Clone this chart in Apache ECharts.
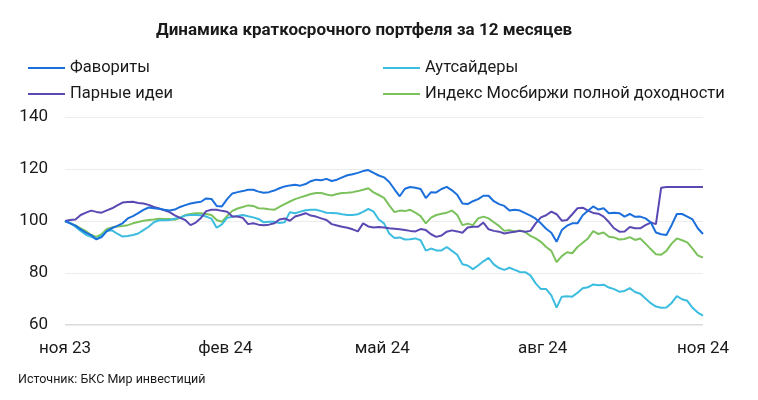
<!DOCTYPE html>
<html>
<head>
<meta charset="utf-8">
<script src="https://cdn.jsdelivr.net/npm/echarts@6/dist/echarts.min.js"></script>
<style>html,body{margin:0;padding:0;background:#fff}#chart{width:758px;height:400px}</style>
</head>
<body>
<div id="chart"></div>
<script>
// ---- data (sampled every 3 days from 1 Nov 2023 to 1 Nov 2024) ----
const startDate = '2023-11-01';
const stepDays = 3;
const favorites = [
100.0,99.1,98.2,96.8,95.5,94.6,92.9,93.8,96.1,97.3,98.1,99.1,101.0,101.9,103.0,104.3,105.2,104.9,104.7,104.3,104.0,
104.4,105.4,106.1,106.7,107.1,107.4,108.7,108.5,105.8,105.6,108.4,110.6,111.1,111.5,112.0,112.0,111.3,110.9,111.1,111.7,
112.6,113.3,113.7,113.9,113.6,114.2,115.3,115.9,115.7,116.2,115.4,115.9,116.8,117.6,118.0,118.5,119.2,119.6,118.5,117.5,
116.8,115.0,112.2,109.5,112.4,113.1,112.8,112.3,108.8,111.1,111.0,112.3,113.1,111.8,110.1,106.7,106.5,107.6,108.4,109.7,109.7,
107.6,106.5,105.8,104.0,104.3,104.0,103.0,102.1,100.9,99.1,97.0,95.5,92.0,96.5,98.2,99.1,99.1,102.2,103.9,105.6,
104.4,104.9,103.0,103.2,103.0,101.7,102.7,101.6,101.7,101.0,99.5,95.6,94.9,94.6,98.4,102.7,102.7,101.7,100.6,97.2,95.0
];
const outsiders = [
100.0,99.2,97.8,96.2,94.7,93.9,93.1,94.2,96.2,96.4,95.1,94.0,94.2,94.6,95.2,96.5,97.8,99.5,100.3,100.3,100.4,
100.9,101.4,102.1,102.3,102.3,102.2,101.7,100.9,97.4,98.7,101.2,101.6,101.9,102.3,101.8,101.4,100.8,99.5,99.7,99.7,
99.2,99.5,103.4,103.0,103.6,104.1,104.3,104.3,103.8,103.2,103.1,103.0,102.6,102.3,102.3,102.6,103.5,104.7,103.6,100.6,
99.1,95.2,93.5,93.7,92.9,93.0,93.3,92.6,88.6,89.4,88.7,88.7,90.0,88.5,87.0,83.4,82.9,81.5,82.9,84.5,85.8,
83.3,81.9,81.2,82.0,81.2,80.4,80.3,79.1,76.0,73.8,73.8,71.4,66.7,70.9,71.1,70.9,72.4,74.1,74.5,75.6,
75.3,75.5,74.4,73.8,72.8,73.1,74.2,72.7,72.0,70.2,68.4,67.1,66.6,66.7,68.5,71.1,69.9,69.3,66.6,64.8,63.6
];
const pairIdeas = [
100.0,100.4,100.6,102.3,103.2,104.0,103.5,103.2,104.1,104.9,106.0,107.1,107.3,107.4,106.9,106.7,106.2,105.4,104.8,104.1,103.4,
102.2,101.2,100.4,98.4,99.4,101.2,103.8,104.3,104.3,103.9,103.6,101.7,101.7,101.2,98.8,99.1,98.6,98.4,98.6,99.1,
100.6,101.0,100.1,101.7,102.3,103.0,102.1,101.7,101.0,100.4,98.8,98.3,97.8,97.4,96.8,96.0,99.1,97.9,97.5,97.7,
97.5,97.2,97.0,96.8,96.5,96.2,96.0,96.9,96.5,94.9,93.9,94.4,95.9,96.4,96.0,95.5,97.5,97.8,97.8,99.4,96.8,
96.2,95.9,95.2,95.6,95.9,96.2,95.9,96.2,99.1,101.4,102.2,103.6,102.6,100.1,100.4,102.6,104.9,105.1,104.0,103.1,
102.8,101.7,99.6,97.2,95.9,96.0,97.7,97.2,97.2,98.4,99.4,98.8,112.8,113.1,113.1,113.1,113.1,113.1,113.1,113.1,113.1
];
const moexIndex = [
100.0,99.2,98.3,97.2,96.1,94.6,93.9,94.9,96.9,97.5,97.9,98.1,98.4,99.1,99.6,100.1,100.4,100.6,100.9,100.8,100.8,
100.5,101.2,102.3,102.7,103.0,103.0,102.7,102.3,100.4,99.7,101.9,103.9,104.8,105.4,106.0,105.8,104.9,104.8,104.5,104.3,
105.4,106.5,107.5,108.4,109.1,109.7,110.4,110.8,110.8,110.2,109.8,110.4,110.8,110.9,111.1,111.5,112.0,112.6,111.0,110.0,
108.9,106.0,103.4,104.0,103.8,104.3,103.2,101.9,99.1,101.3,102.3,102.8,103.2,104.0,102.3,98.4,99.0,98.4,101.0,101.7,101.0,
99.5,98.1,96.2,96.5,96.0,96.4,95.7,94.3,93.3,92.0,90.0,88.5,84.2,86.5,88.0,87.6,90.0,91.6,93.3,96.1,
95.0,95.6,93.9,93.7,92.9,93.1,93.8,92.7,93.3,91.3,89.2,87.2,87.0,88.5,91.3,93.3,92.6,91.8,89.4,86.8,85.9
];
const seriesNames = ['Фавориты', 'Аутсайдеры', 'Парные идеи', 'Индекс Мосбиржи полной доходности'];
const tickDates = ['2023-11-01', '2024-02-01', '2024-05-01', '2024-08-01', '2024-11-01'];
const tickLabels = ['ноя 23', 'фев 24', 'май 24', 'авг 24', 'ноя 24'];
const yTicks = [60, 80, 100, 120, 140];
const titleText = 'Динамика краткосрочного портфеля за 12 месяцев';
const sourceText = 'Источник: БКС Мир инвестиций';

// ---- build: x is "days since startDate" ----
const DAY = 86400000;
const toTs = s => { const p = s.split('-').map(Number); return Date.UTC(p[0], p[1] - 1, p[2]); };
const t0 = toTs(startDate);
const dayOf = s => Math.round((toTs(s) - t0) / DAY);
const tickDays = tickDates.map(dayOf);
const pair = arr => arr.map((v, i) => [i * stepDays, v]);
const colors = ['#1b6fdc', '#3cbde0', '#5a49b3', '#7cc25c'];
const FONT = 'Roboto';
const txt = '#1a1a1a';

const chart = echarts.init(document.getElementById('chart'), null, {renderer: 'canvas'});
chart.setOption({
  animation: false,
  backgroundColor: '#fff',
  title: [
    {text: titleText, left: 156, top: 22, padding: 0,
     textStyle: {fontFamily: FONT, fontSize: 17, fontWeight: 'bold', color: txt}},
    {text: sourceText, left: 18, top: 373, padding: 0,
     textStyle: {fontFamily: FONT, fontSize: 12.5, fontWeight: 'normal', color: txt}}
  ],
  legend: [
    {data: [seriesNames[0], seriesNames[2]], orient: 'vertical', left: 28, top: 59, padding: 0,
     icon: 'rect', itemWidth: 37, itemHeight: 2, itemGap: 8,
     textStyle: {fontFamily: FONT, fontSize: 16.5, color: txt, lineHeight: 18}},
    {data: [seriesNames[1], seriesNames[3]], orient: 'vertical', left: 383, top: 59, padding: 0,
     icon: 'rect', itemWidth: 37, itemHeight: 2, itemGap: 8,
     textStyle: {fontFamily: FONT, fontSize: 16.5, color: txt, lineHeight: 18}}
  ],
  grid: {left: 65, right: 55, top: 117, bottom: 75, containLabel: false},
  xAxis: {
    type: 'value', min: tickDays[0], max: tickDays[tickDays.length - 1],
    axisLine: {show: false}, axisTick: {show: false}, splitLine: {show: false},
    axisLabel: {
      customValues: tickDays, margin: 15,
      fontFamily: FONT, fontSize: 17, color: txt,
      formatter: v => { const i = tickDays.indexOf(Math.round(v)); return i >= 0 ? tickLabels[i] : ''; }
    }
  },
  yAxis: {
    type: 'value', min: yTicks[0], max: yTicks[yTicks.length - 1], interval: 20,
    axisLine: {show: false}, axisTick: {show: false},
    splitLine: {lineStyle: {color: '#ececec', width: 1}},
    axisLabel: {margin: 17, fontFamily: FONT, fontSize: 17, color: txt}
  },
  series: [
    {name: seriesNames[3], type: 'line', data: pair(moexIndex), color: colors[3]},
    {name: seriesNames[1], type: 'line', data: pair(outsiders), color: colors[1]},
    {name: seriesNames[2], type: 'line', data: pair(pairIdeas), color: colors[2]},
    {name: seriesNames[0], type: 'line', data: pair(favorites), color: colors[0]}
  ].map(s => Object.assign(s, {showSymbol: false, symbol: 'none', lineStyle: {width: 2}, emphasis: {disabled: true}})),
  graphic: [{
    type: 'line', silent: true, z: 0,
    shape: {x1: 65, y1: 325, x2: 703, y2: 325},
    style: {stroke: '#dcdcdc', lineWidth: 2}
  }]
});
</script>
</body>
</html>
